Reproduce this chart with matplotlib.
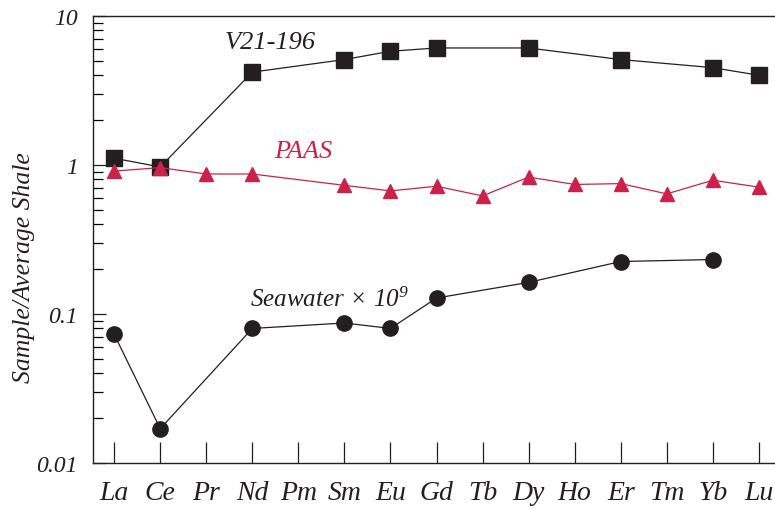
import numpy as np
import matplotlib
matplotlib.use("Agg")
import matplotlib.pyplot as plt
from matplotlib.ticker import LogLocator, NullFormatter, FixedLocator

# REE pattern data (normalized to average shale)
elements = ['La', 'Ce', 'Pr', 'Nd', 'Pm', 'Sm', 'Eu', 'Gd', 'Tb', 'Dy',
            'Ho', 'Er', 'Tm', 'Yb', 'Lu']

v21_idx = [0, 1, 3, 5, 6, 7, 9, 11, 13, 14]
v21_vals = [1.11, 0.97, 4.2, 5.1, 5.8, 6.1, 6.1, 5.1, 4.5, 4.0]

paas_idx = [0, 1, 2, 3, 5, 6, 7, 8, 9, 10, 11, 12, 13, 14]
paas_vals = [0.91, 0.96, 0.87, 0.87, 0.73, 0.67, 0.72, 0.62, 0.83, 0.74,
             0.75, 0.64, 0.79, 0.71]

sea_idx = [0, 1, 3, 5, 6, 7, 9, 11, 13]
sea_vals = [0.073, 0.0170, 0.080, 0.087, 0.080, 0.128, 0.163, 0.225, 0.232]

black = '#231f20'
red = '#cc2149'

plt.rcParams['font.family'] = ['Liberation Serif', 'DejaVu Serif']
plt.rcParams['font.style'] = 'italic'
plt.rcParams['mathtext.fontset'] = 'custom'
plt.rcParams['mathtext.rm'] = 'Liberation Serif:italic'
plt.rcParams['mathtext.it'] = 'Liberation Serif:italic'
plt.rcParams['mathtext.default'] = 'it'

fig = plt.figure(figsize=(7.75, 5.1), dpi=100)
ax = fig.add_axes([0.12, 0.0902, 0.88, 0.8765])

ax.plot(v21_idx, v21_vals, color=black, lw=0.9, marker='s', ms=11)
ax.plot(paas_idx, paas_vals, color=red, lw=0.9, marker='^', ms=10)
ax.plot(sea_idx, sea_vals, color=black, lw=0.9, marker='o', ms=11)

ax.set_yscale('log')
ax.set_ylim(0.01, 10)
ax.set_xlim(-0.46, 14.35)

ax.set_xticks(range(len(elements)))
ax.set_xticklabels(elements, fontsize=20)
ax.tick_params(axis='x', direction='in', length=15, width=0.9, pad=12,
               colors=black)

ax.yaxis.set_major_locator(FixedLocator([0.01, 0.1, 1, 10]))
ax.set_yticklabels(['0.01', '0.1', '1', '10'], fontsize=17)
ax.yaxis.set_minor_locator(LogLocator(base=10, subs=np.arange(2, 10)))
ax.yaxis.set_minor_formatter(NullFormatter())
ax.tick_params(axis='y', which='major', direction='in', length=9, width=0.9,
               pad=11, colors=black)
ax.tick_params(axis='y', which='minor', direction='in', length=7, width=0.9)

for side in ['left', 'bottom', 'top']:
    ax.spines[side].set_linewidth(1.0)
    ax.spines[side].set_color(black)
ax.spines['right'].set_visible(False)

ax.set_ylabel('Sample/Average Shale', fontsize=18.5, color=black)
ax.yaxis.set_label_coords(-0.085, 0.44)

ax.text(3.39, 6.7, 'V21-196', fontsize=19, color=black, ha='center', va='center')
ax.text(4.1, 1.24, 'PAAS', fontsize=19, color=red, ha='center', va='center')
ax.text(2.95, 0.126, r'Seawater$\,\times\,$10$^{9}$', fontsize=18, color=black,
        ha='left', va='center')

fig.savefig('out.png', dpi=100)
